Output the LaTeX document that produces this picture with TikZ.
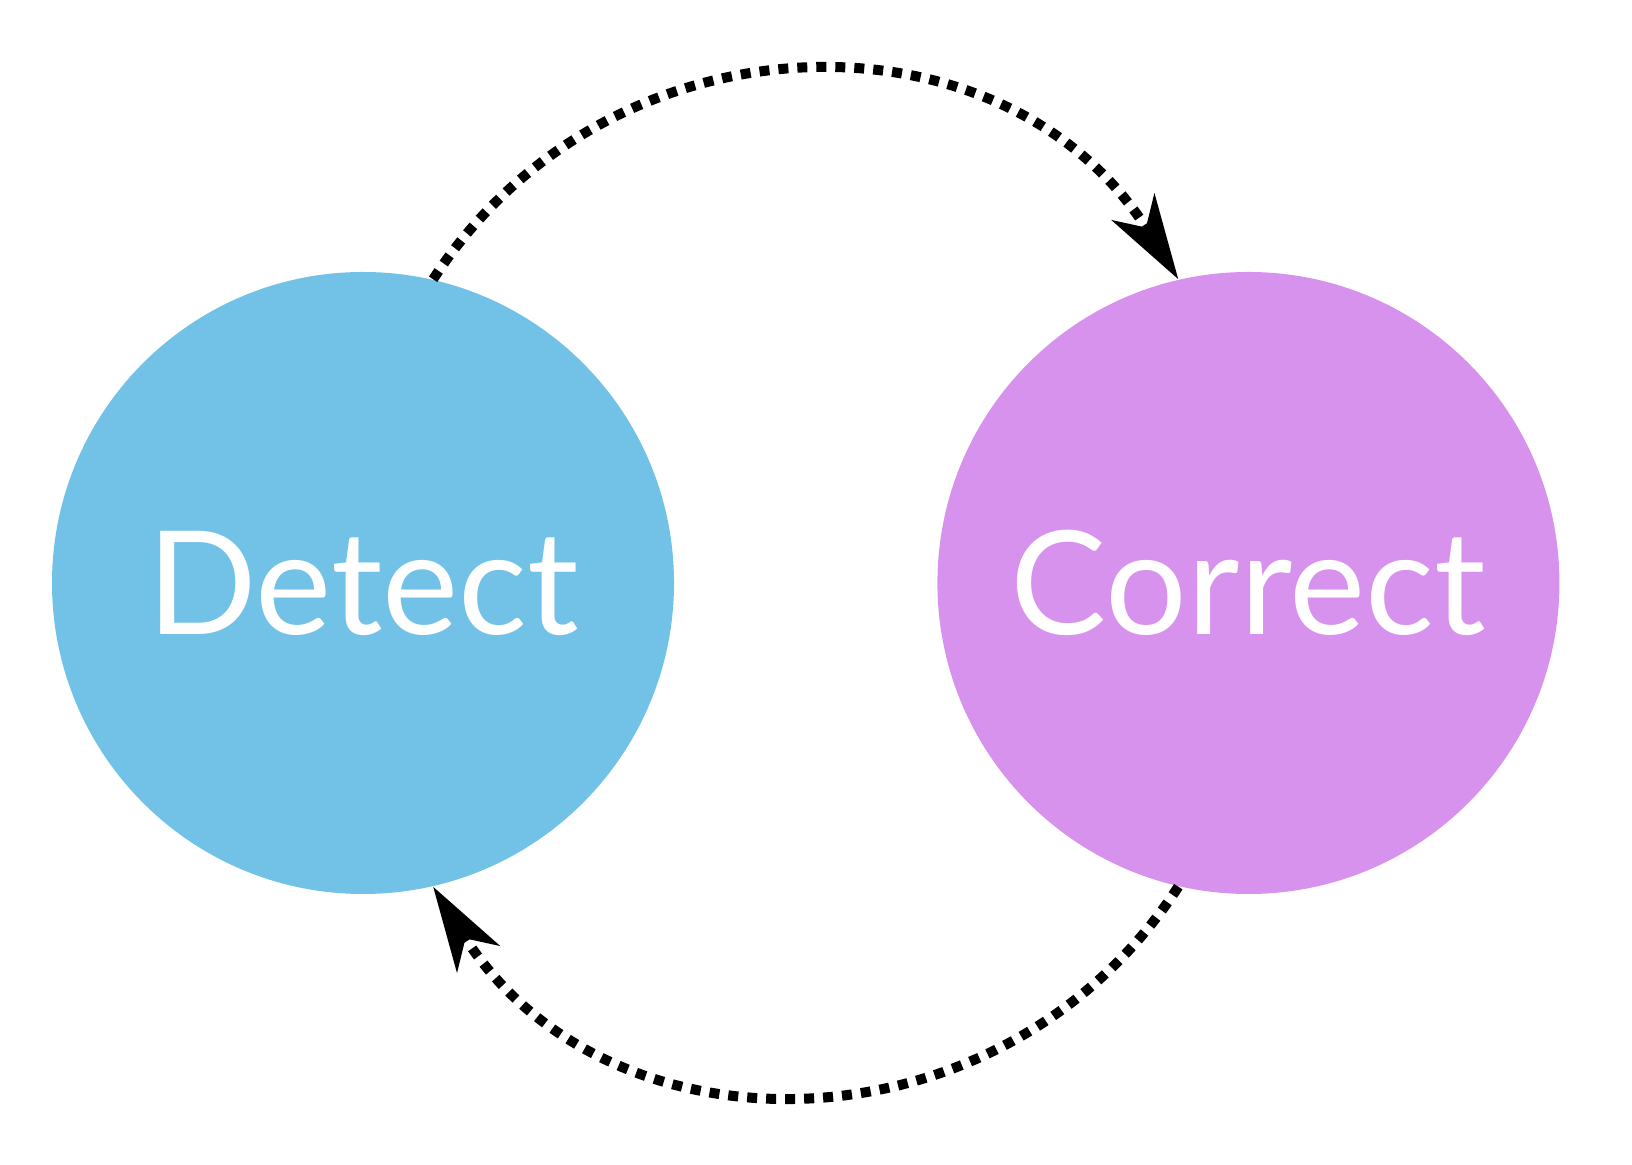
\documentclass[tikz,border=0pt]{standalone}
\usepackage{fontspec}
\setmainfont{Lato}
\usetikzlibrary{arrows.meta,positioning}
\definecolor{dBlue}{RGB}{114,194,232}
\definecolor{dPurple}{RGB}{215,146,238}

\begin{document}
\begin{tikzpicture}[
	stage/.style={
		circle, minimum size=6.22cm, inner sep=0pt, text=white,
		font=\fontsize{41}{41}\selectfont
	},
	loop/.style={
		line width=0.1cm, dash pattern=on 0.1cm off 0.09cm,
		-{Stealth[length=0.85cm,width=0.5cm,inset=0.24cm]}
	}
	]
	\useasboundingbox (0,0) rectangle (16.32,11.64);
	\node[stage,fill=dBlue] (detect) at (3.63,5.81) {Detect};
	\node[stage,fill=dPurple,right=2.62cm of detect] (correct) {Correct};

	\draw[loop] (detect.77) to[out=57,in=122,looseness=1.12] (correct.103);
	\draw[loop] (correct.-103) to[out=-123,in=-58,looseness=1.12] (detect.-77);
\end{tikzpicture}
\end{document}
